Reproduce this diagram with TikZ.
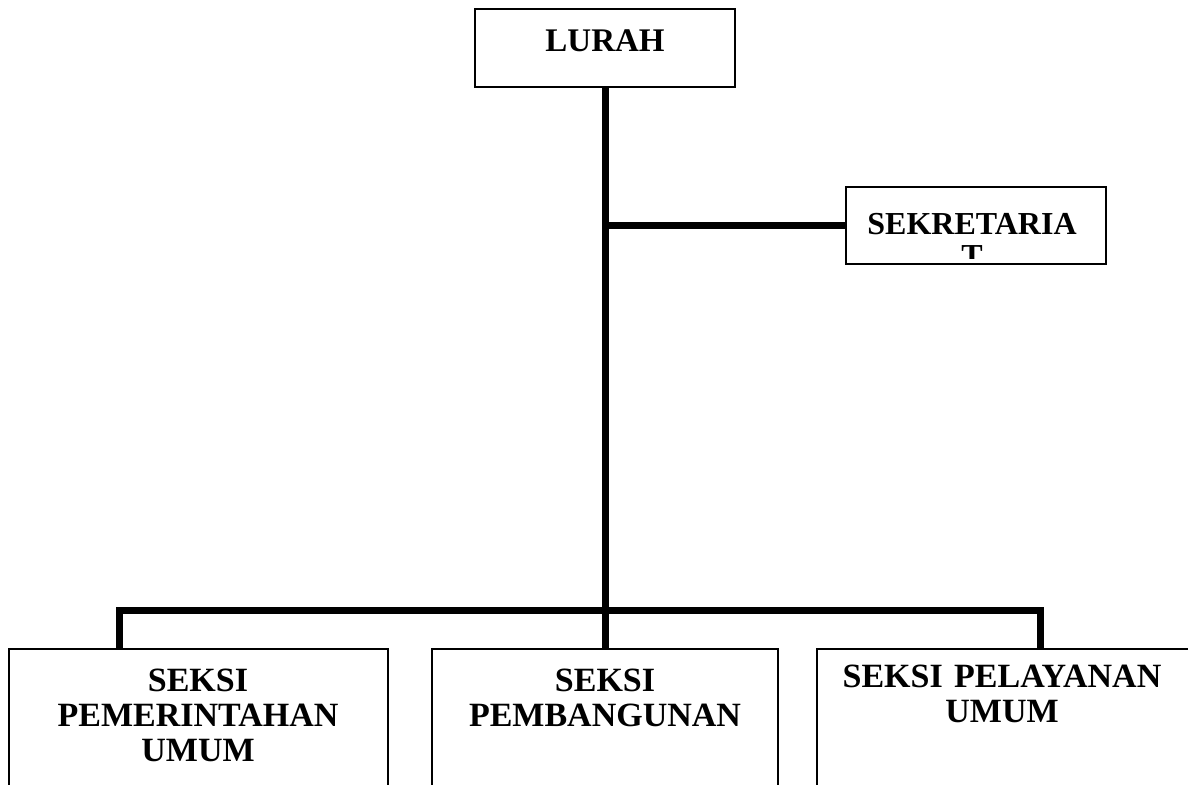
\documentclass[tikz,border=0pt]{standalone}
\usepackage{fontspec}
\setmainfont{Liberation Serif}
\begin{document}
\begin{tikzpicture}[x=0.5pt,y=-0.5pt,
	box/.style={draw,line width=0.75pt,inner sep=0pt,outer sep=0pt},
	txt/.style={anchor=base,align=center,text width=185pt,inner sep=0pt,font=\bfseries\fontsize{17}{17.5}\selectfont},
	conn/.style={line width=3.5pt}]
		\clip (0,0) rectangle (1188,785);
		\node[box,minimum width=130pt,minimum height=39pt] (lurah) at (605,48) {};
		\node[box,minimum width=130pt,minimum height=38.5pt] (sekr) at (976,225.5) {};
		\node[box,minimum width=189.5pt,minimum height=80pt] (pem) at (198.5,729) {};
		\node[box,minimum width=173pt,minimum height=80pt] (pbg) at (605,729) {};
		\node[box,minimum width=189pt,minimum height=80pt] (pel) at (1006,729) {};

		\node[txt,font=\bfseries\fontsize{16.5}{17.5}\selectfont] (lurahtxt) at (605,52) {LURAH};
		\begin{scope}
			\clip (847,188) rectangle (1105,259);
			\node[txt,font=\bfseries\fontsize{16}{17}\selectfont] (sekrtxt) at (972,235) {SEKRETARIA\\[-1pt]T};
		\end{scope}
		\node[txt] (pemtxt) at (198,691) {SEKSI\\PEMERINTAHAN\\UMUM};
		\node[txt] (pbgtxt) at (605,691) {SEKSI\\PEMBANGUNAN};
		\node[txt] (peltxt) at (1002,687) {SEKSI PELAYANAN\\UMUM};

		\coordinate (bl) at (119,610);
		\coordinate (br) at (1040,610);
		\draw[conn] (lurah.south) -- (pbg.north);
		\draw[conn] (lurah.south |- sekr.west) -- (sekr.west);
		\draw[conn] (bl |- pem.north) -- (bl) -- (br) -- (br |- pel.north);
\end{tikzpicture}
\end{document}
